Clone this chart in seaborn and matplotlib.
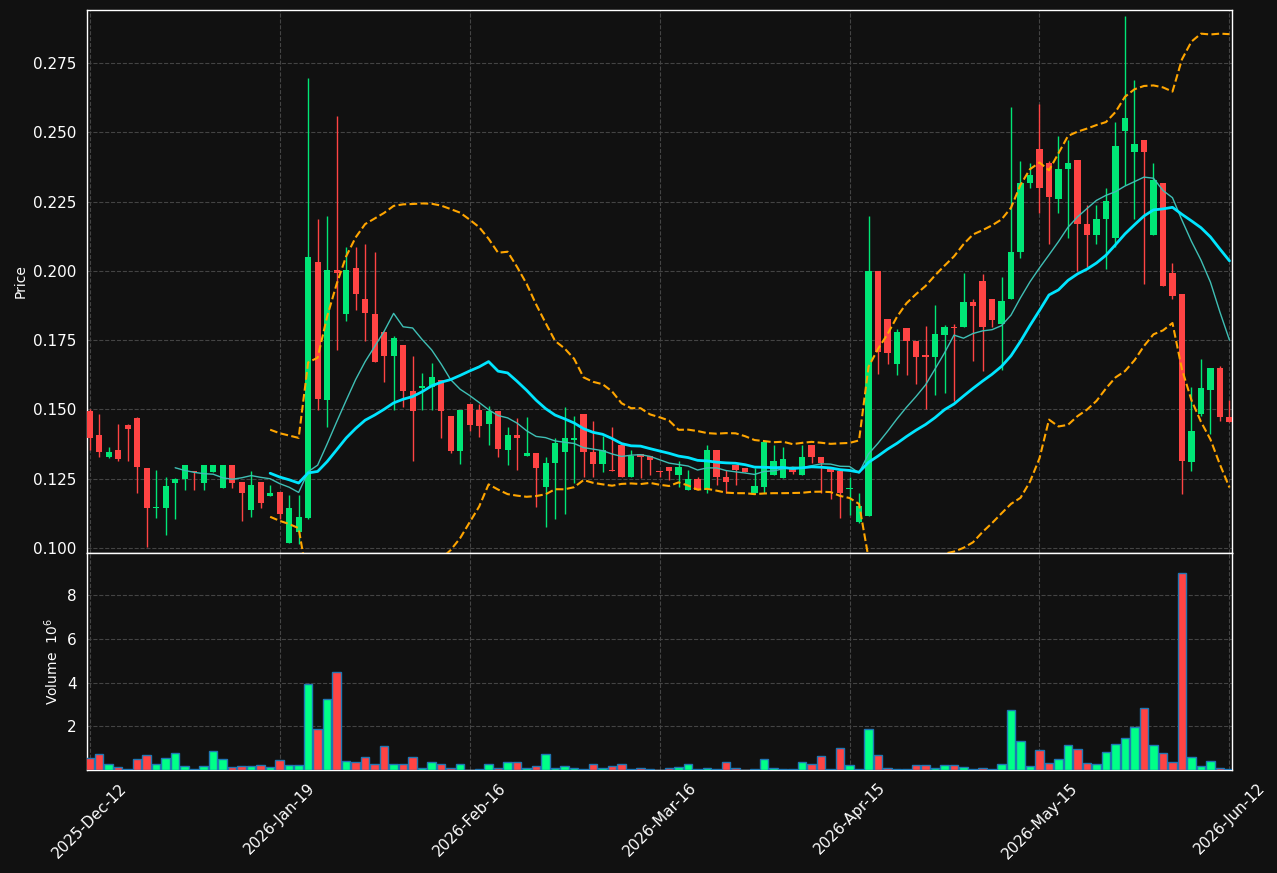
import numpy as np
import pandas as pd
import matplotlib
matplotlib.use("Agg")
import matplotlib.pyplot as plt
import seaborn as sns

# OHLC (one row per candle)
opens = [0.1496, 0.1409, 0.1327, 0.1353, 0.1445, 0.1470, 0.1290, 0.1143, 0.1143, 0.1236,
         0.1247, 0.1279, 0.1236, 0.1273, 0.1215, 0.1300, 0.1239, 0.1135, 0.1239, 0.1189,
         0.1203, 0.1016, 0.1056, 0.1108, 0.2031, 0.1533, 0.2002, 0.1844, 0.2009, 0.1900,
         0.1846, 0.1781, 0.1692, 0.1734, 0.1568, 0.1576, 0.1580, 0.1606, 0.1477, 0.1351,
         0.1521, 0.1499, 0.1446, 0.1496, 0.1352, 0.1409, 0.1331, 0.1344, 0.1221, 0.1305,
         0.1345, 0.1391, 0.1484, 0.1347, 0.1303, 0.1282, 0.1373, 0.1255, 0.1339, 0.1333,
         0.1279, 0.1293, 0.1264, 0.1210, 0.1249, 0.1209, 0.1353, 0.1257, 0.1299, 0.1288,
         0.1197, 0.1221, 0.1263, 0.1251, 0.1293, 0.1264, 0.1373, 0.1329, 0.1288, 0.1279,
         0.1211, 0.1095, 0.1116, 0.2001, 0.1827, 0.1664, 0.1794, 0.1748, 0.1697, 0.1691,
         0.1770, 0.1799, 0.1799, 0.1889, 0.1965, 0.1899, 0.1809, 0.1897, 0.2068, 0.2317,
         0.2439, 0.2391, 0.2258, 0.2367, 0.2399, 0.2170, 0.2128, 0.2186, 0.2118, 0.2507,
         0.2429, 0.2471, 0.2128, 0.2318, 0.1993, 0.1915, 0.1311, 0.1483, 0.1571, 0.1650,
         0.1471]
highs = [0.1500, 0.1483, 0.1365, 0.1447, 0.1447, 0.1472, 0.1290, 0.1281, 0.1255, 0.1252,
         0.1300, 0.1279, 0.1300, 0.1300, 0.1300, 0.1300, 0.1239, 0.1279, 0.1239, 0.1227,
         0.1203, 0.1191, 0.1191, 0.2698, 0.2188, 0.2200, 0.2561, 0.2088, 0.2088, 0.2098,
         0.2069, 0.1783, 0.1764, 0.1734, 0.1693, 0.1632, 0.1668, 0.1606, 0.1477, 0.1499,
         0.1521, 0.1521, 0.1514, 0.1496, 0.1435, 0.1468, 0.1474, 0.1344, 0.1327, 0.1397,
         0.1510, 0.1477, 0.1484, 0.1457, 0.1405, 0.1435, 0.1373, 0.1353, 0.1339, 0.1333,
         0.1279, 0.1293, 0.1312, 0.1281, 0.1255, 0.1371, 0.1353, 0.1281, 0.1299, 0.1288,
         0.1288, 0.1383, 0.1371, 0.1365, 0.1293, 0.1371, 0.1373, 0.1329, 0.1288, 0.1279,
         0.1255, 0.1198, 0.2199, 0.2001, 0.1827, 0.1791, 0.1794, 0.1748, 0.1800, 0.1877,
         0.1803, 0.1809, 0.1993, 0.1899, 0.1989, 0.1899, 0.1977, 0.2591, 0.2397, 0.2391,
         0.2601, 0.2397, 0.2487, 0.2471, 0.2399, 0.2239, 0.2239, 0.2300, 0.2538, 0.2920,
         0.2691, 0.2471, 0.2391, 0.2318, 0.2029, 0.1915, 0.1582, 0.1682, 0.1650, 0.1656,
         0.1534]
lows = [0.1353, 0.1327, 0.1325, 0.1312, 0.1312, 0.1197, 0.1002, 0.1108, 0.1046, 0.1104,
        0.1209, 0.1209, 0.1209, 0.1273, 0.1215, 0.1216, 0.1097, 0.1110, 0.1144, 0.1189,
        0.1104, 0.1016, 0.1014, 0.1105, 0.1498, 0.1438, 0.1715, 0.1820, 0.1859, 0.1746,
        0.1670, 0.1598, 0.1498, 0.1510, 0.1315, 0.1498, 0.1498, 0.1397, 0.1343, 0.1304,
        0.1423, 0.1399, 0.1371, 0.1327, 0.1299, 0.1281, 0.1331, 0.1146, 0.1077, 0.1104,
        0.1124, 0.1233, 0.1255, 0.1255, 0.1273, 0.1276, 0.1255, 0.1255, 0.1252, 0.1263,
        0.1255, 0.1245, 0.1221, 0.1210, 0.1209, 0.1197, 0.1228, 0.1197, 0.1227, 0.1275,
        0.1197, 0.1197, 0.1263, 0.1251, 0.1267, 0.1264, 0.1306, 0.1197, 0.1176, 0.1108,
        0.1118, 0.1090, 0.1116, 0.1628, 0.1664, 0.1624, 0.1624, 0.1592, 0.1501, 0.1552,
        0.1558, 0.1531, 0.1799, 0.1676, 0.1640, 0.1797, 0.1642, 0.1897, 0.2047, 0.2300,
        0.2210, 0.2098, 0.2210, 0.2120, 0.2001, 0.2013, 0.2098, 0.2007, 0.2086, 0.2311,
        0.2188, 0.1953, 0.2128, 0.1947, 0.1899, 0.1196, 0.1278, 0.1477, 0.1411, 0.1457,
        0.1453]
closes = [0.1396, 0.1345, 0.1347, 0.1320, 0.1428, 0.1291, 0.1143, 0.1149, 0.1224, 0.1250,
          0.1300, 0.1275, 0.1300, 0.1300, 0.1300, 0.1236, 0.1197, 0.1228, 0.1161, 0.1199,
          0.1124, 0.1145, 0.1112, 0.2049, 0.1536, 0.2002, 0.1992, 0.2002, 0.1916, 0.1847,
          0.1670, 0.1694, 0.1759, 0.1565, 0.1493, 0.1586, 0.1618, 0.1493, 0.1351, 0.1499,
          0.1445, 0.1441, 0.1496, 0.1356, 0.1409, 0.1396, 0.1344, 0.1287, 0.1308, 0.1380,
          0.1397, 0.1397, 0.1345, 0.1303, 0.1353, 0.1276, 0.1255, 0.1333, 0.1327, 0.1318,
          0.1275, 0.1276, 0.1293, 0.1249, 0.1209, 0.1353, 0.1255, 0.1237, 0.1281, 0.1275,
          0.1224, 0.1383, 0.1315, 0.1321, 0.1273, 0.1329, 0.1327, 0.1305, 0.1273, 0.1197,
          0.1216, 0.1152, 0.2001, 0.1706, 0.1702, 0.1781, 0.1746, 0.1691, 0.1691, 0.1772,
          0.1799, 0.1794, 0.1889, 0.1875, 0.1797, 0.1824, 0.1893, 0.2070, 0.2318, 0.2348,
          0.2300, 0.2266, 0.2369, 0.2391, 0.2170, 0.2128, 0.2188, 0.2251, 0.2450, 0.2552,
          0.2459, 0.2429, 0.2330, 0.1947, 0.1911, 0.1315, 0.1423, 0.1576, 0.1650, 0.1471,
          0.1453]
# volume in millions
volumes = [0.535, 0.72, 0.29, 0.12, 0.03, 0.49, 0.67, 0.26, 0.535, 0.76,
           0.17, 0.03, 0.17, 0.86, 0.49, 0.12, 0.17, 0.17, 0.21, 0.12,
           0.44, 0.21, 0.21, 3.93, 1.87, 3.24, 4.48, 0.40, 0.35, 0.58,
           0.29, 1.09, 0.29, 0.29, 0.58, 0.11, 0.35, 0.29, 0.11, 0.29,
           0.0, 0.03, 0.29, 0.11, 0.38, 0.35, 0.11, 0.17, 0.75, 0.11,
           0.17, 0.08, 0.03, 0.29, 0.08, 0.2, 0.29, 0.03, 0.11, 0.03,
           0.02, 0.08, 0.15, 0.29, 0.03, 0.08, 0.03, 0.35, 0.08, 0.0,
           0.03, 0.49, 0.08, 0.03, 0.03, 0.35, 0.26, 0.63, 0.03, 0.99,
           0.21, 0.03, 1.87, 0.67, 0.08, 0.03, 0.03, 0.21, 0.21, 0.08,
           0.21, 0.21, 0.12, 0.03, 0.08, 0.03, 0.29, 2.74, 1.31, 0.17,
           0.90, 0.31, 0.49, 1.13, 0.95, 0.31, 0.26, 0.81, 1.18, 1.45,
           1.97, 2.83, 1.13, 0.76, 0.35, 9.02, 0.58, 0.17, 0.40, 0.08,
           0.03]
tick_pos = [0, 20, 40, 60, 80, 100, 120]
tick_labels = ["2025-Dec-12", "2026-Jan-19", "2026-Feb-16", "2026-Mar-16",
               "2026-Apr-15", "2026-May-15", "2026-Jun-12"]

df = pd.DataFrame({"open": opens, "high": highs, "low": lows, "close": closes, "volume": volumes})
df["idx"] = np.arange(len(df))
df["ma10"] = df["close"].rolling(10).mean()
df["ma20"] = df["close"].rolling(20).mean()
std20 = df["close"].rolling(20).std()
df["bb_up"] = df["ma20"] + 2 * std20
df["bb_lo"] = df["ma20"] - 2 * std20

up_col = "#00e676"
down_col = "#ff4444"
bg = "#111111"

sns.set_theme(style="darkgrid")
plt.rcParams.update({
    "figure.facecolor": bg, "axes.facecolor": bg, "axes.edgecolor": "white",
    "axes.labelcolor": "white", "xtick.color": "white", "ytick.color": "white",
    "grid.color": "#444444", "grid.linestyle": "--", "grid.linewidth": 0.8,
    "xtick.labelsize": 11, "ytick.labelsize": 11, "axes.labelsize": 11,
})
plt.rcParams["font.family"] = ["DejaVu Sans"]

fig, (ax, axv) = plt.subplots(2, 1, figsize=(12.77, 8.73), dpi=100, sharex=True,
                              gridspec_kw={"height_ratios": [2.5, 1]})
fig.subplots_adjust(left=0.068, right=0.965, top=0.9885, bottom=0.118, hspace=0)

rising = df["close"] >= df["open"]
colors = np.where(rising, up_col, down_col)

# wicks and bodies
ax.vlines(df["idx"], df["low"], df["high"], colors=colors, linewidth=1, zorder=2)
body_lo = np.minimum(df["open"], df["close"])
body_h = np.maximum(np.abs(df["close"] - df["open"]), 0.0004)
ax.bar(df["idx"], body_h, bottom=body_lo, width=0.65, color=colors,
       edgecolor="none", linewidth=0, zorder=3)

sns.lineplot(data=df, x="idx", y="ma10", ax=ax, color="#3fbfb5", linewidth=1, zorder=4)
sns.lineplot(data=df, x="idx", y="ma20", ax=ax, color="#00e5ff", linewidth=2, zorder=4)
sns.lineplot(data=df, x="idx", y="bb_up", ax=ax, color="orange", linewidth=1.5,
             linestyle="--", zorder=4)
sns.lineplot(data=df, x="idx", y="bb_lo", ax=ax, color="orange", linewidth=1.5,
             linestyle="--", zorder=4)

ax.set_ylim(0.0982, 0.2942)
ax.set_ylabel("Price", fontsize=10)
ax.set_xlabel("")
ax.grid(True, color="#444444", linestyle="--", linewidth=0.8)

vol_colors = np.where(rising, "#00ff88", down_col)
axv.bar(df["idx"], df["volume"], width=0.9, color=vol_colors, edgecolor="#1f77b4",
        linewidth=1, zorder=3)
axv.set_ylim(0, 9.95)
axv.set_yticks([2, 4, 6, 8])
axv.set_ylabel("Volume  $10^{6}$", fontsize=10)
axv.grid(True, color="#444444", linestyle="--", linewidth=0.8)

axv.set_xlim(-0.3, 120.3)
axv.set_xticks(tick_pos)
axv.set_xticklabels(tick_labels, rotation=45)
for a in (ax, axv):
    for s in a.spines.values():
        s.set_color("white")
        s.set_linewidth(1)
    a.tick_params(length=4, width=1)

fig.savefig("out.png", dpi=100, facecolor=bg)
